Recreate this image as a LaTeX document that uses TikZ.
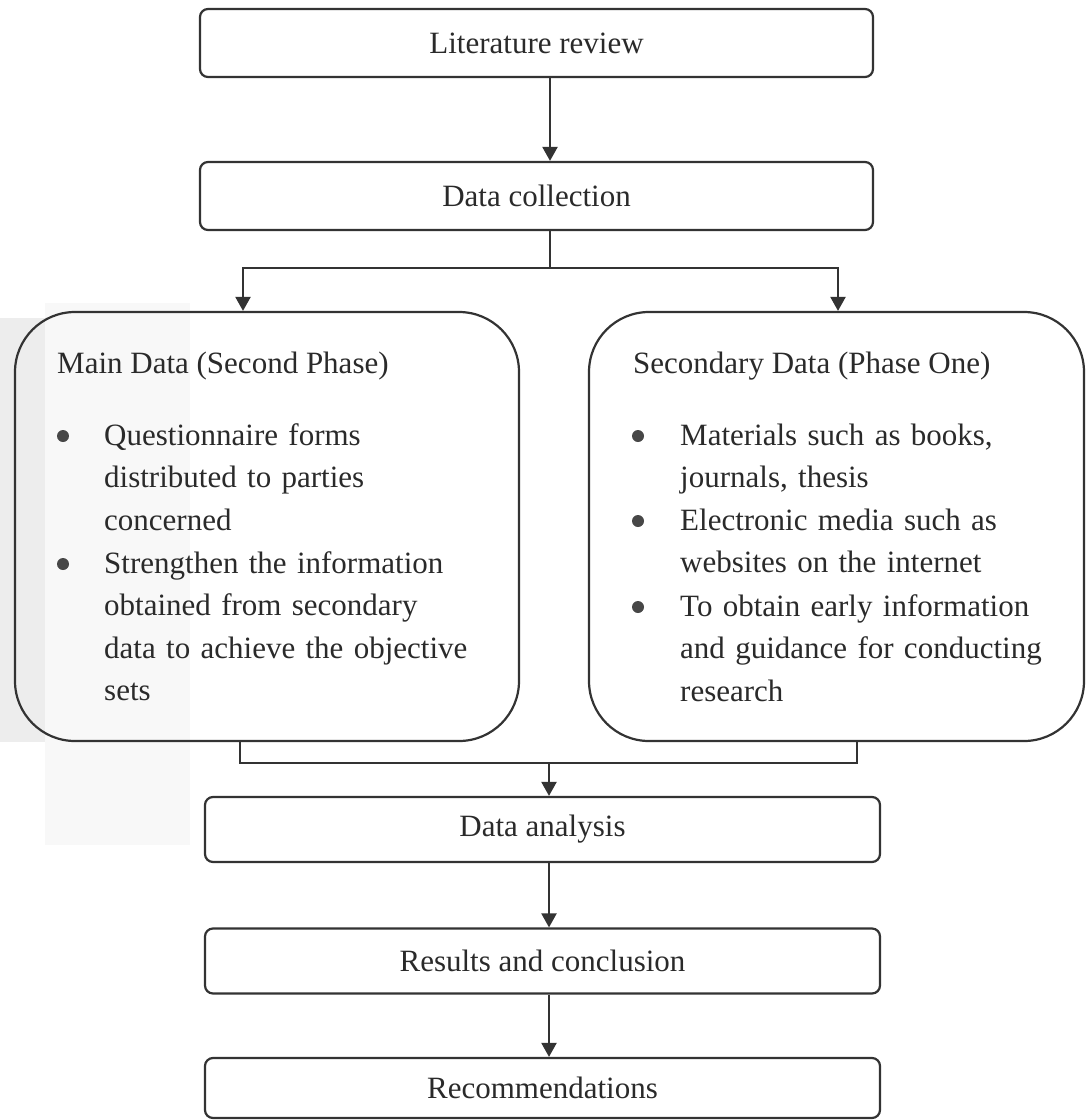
\documentclass[tikz,border=0pt]{standalone}
\usepackage{fontspec}
\setmainfont{Liberation Serif}
\usetikzlibrary{arrows.meta}
\definecolor{ink}{HTML}{2A2A2A}
\definecolor{linec}{HTML}{333333}
\definecolor{scanshade}{HTML}{EDEDED}
\definecolor{scanlight}{HTML}{F8F8F8}
\definecolor{bulc}{HTML}{474747}
\tikzset{
  line/.style={draw=linec, line width=2.2pt},
  arr/.style={line, -{Triangle[width=15pt,length=14pt]}},
  smallbox/.style={line, rounded corners=8pt, minimum width=673pt, minimum height=66pt, inner sep=0pt,
    font=\fontsize{31}{43}\selectfont, text=ink},
  bigbox/.style={line, rounded corners=60pt, inner sep=0pt},
  title/.style={anchor=base west, inner sep=0pt, font=\fontsize{31}{43}\selectfont, text=ink},
  item/.style={anchor=base west, inner sep=0pt, text width=440pt, align=left,
    font=\fontsize{31}{42.5}\selectfont, text=ink},
  bul/.style={fill=bulc, draw=none}
}
\begin{document}
\begin{tikzpicture}[x=1pt,y=-1pt]
\useasboundingbox (0,0) rectangle (1086,1120);
% scan shade at left edge
\fill[scanlight] (45,303) rectangle (190,845);
\fill[scanshade] (0,318) rectangle (45,742);

% top boxes
\node[smallbox, minimum height=68pt] (lit) at (536.5,43) {Literature review};
\node[smallbox, minimum height=68pt] (dc) at (536.5,196) {Data collection};

% big boxes
\node[bigbox, minimum width=504pt, minimum height=429pt] (main) at (267,526.5) {};
\node[bigbox, minimum width=495pt, minimum height=429pt] (sec) at (836.5,526.5) {};

% bottom boxes
\node[smallbox, minimum width=675pt, minimum height=65pt] (da) at (542.5,829.5) {Data analysis};
\node[smallbox, minimum width=675pt, minimum height=65pt] (res) at (542.5,961) {Results and conclusion};
\node[smallbox, minimum width=675pt, minimum height=60pt] (rec) at (542.5,1088) {Recommendations};

% left box text
\node[title] (mt) at (57,373) {Main Data (Second Phase)};
\fill[bul] (63,436) circle (6pt);
\node[item] (m1) at (104,445) {Questionnaire forms\\distributed to parties\\concerned};
\fill[bul] (63,564) circle (6pt);
\node[item] (m2) at (104,573) {Strengthen the information\\obtained from secondary\\data to achieve the objective\\sets};

% right box text
\node[title] (st) at (633,373) {Secondary Data (Phase One)};
\fill[bul] (638,436) circle (6pt);
\node[item] (s1) at (680,445) {Materials such as books,\\journals, thesis};
\fill[bul] (638,521) circle (6pt);
\node[item] (s2) at (680,530) {Electronic media such as\\websites on the internet};
\fill[bul] (638,607) circle (6pt);
\node[item] (s3) at (680,616) {To obtain early information\\and guidance for conducting\\research};

% connector coordinates
\coordinate (spine) at (550,0);
\coordinate (br) at (550,268);
\coordinate (bl) at (243,268);
\coordinate (brr) at (838,268);
\coordinate (jl) at (240,763);
\coordinate (jr) at (857,763);
\coordinate (jm) at (549,763);

% connectors
\draw[arr] (lit.south -| spine) -- (dc.north -| spine);
\draw[line] (dc.south -| br) -- (br);
\draw[arr] (br) -- (bl) -- (main.north -| bl);
\draw[arr] (br) -- (brr) -- (sec.north -| brr);
\draw[line] (main.south -| jl) -- (jl) -- (jr) -- (sec.south -| jr);
\draw[arr] (jm) -- (da.north -| jm);
\draw[arr] (da.south -| jm) -- (res.north -| jm);
\draw[arr] (res.south -| jm) -- (rec.north -| jm);
\end{tikzpicture}
\end{document}
